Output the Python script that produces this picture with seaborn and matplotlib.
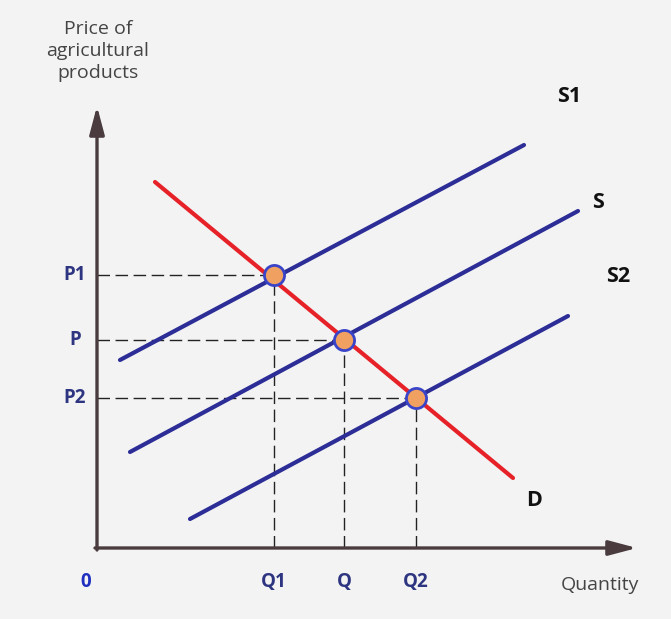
import numpy as np
import pandas as pd
import matplotlib
matplotlib.use('Agg')
import matplotlib.pyplot as plt
import seaborn as sns

# Quantities / prices at the three equilibria (chart units, origin at 0,0)
q_labels = ['Q1', 'Q', 'Q2']
q_values = [177, 247, 319]
p_labels = ['P1', 'P', 'P2']
p_values = [273, 208, 150]

# Curve end points
s1_x = [23, 427]
s1_y = [188, 403]
s_x = [33, 481]
s_y = [96, 337]
s2_x = [93, 471]
s2_y = [29, 232]
d_x = [58, 416]
d_y = [366, 70]

curves = pd.DataFrame({
    'x': s1_x + s_x + s2_x + d_x,
    'y': s1_y + s_y + s2_y + d_y,
    'curve': ['S1'] * 2 + ['S'] * 2 + ['S2'] * 2 + ['D'] * 2,
})
points = pd.DataFrame({'x': q_values, 'y': p_values})

sns.set_style('white')
plt.rcParams['font.family'] = ['Open Sans', 'DejaVu Sans']

fig = plt.figure(figsize=(6.71, 6.19), dpi=100)
fig.patch.set_facecolor('#f3f3f3')
ax = fig.add_axes([0, 0, 1, 1])
ax.set_facecolor('#f3f3f3')
ax.set_xlim(-97, 574)
ax.set_ylim(-71, 548)
ax.axis('off')

blue = '#2c2d96'
red = '#e62228'
axis_col = '#4a3c3e'

# dashed guides
for q, p in zip(q_values, p_values):
    ax.plot([0, q], [p, p], color='#222222', lw=1.0, dashes=(9, 4), zorder=1)
    ax.plot([q, q], [0, p], color='#222222', lw=1.0, dashes=(9, 4), zorder=1)

# supply and demand curves
sns.lineplot(data=curves, x='x', y='y', hue='curve', units='curve', estimator=None,
             palette={'S1': blue, 'S': blue, 'S2': blue, 'D': red},
             linewidth=3.0, legend=False, sort=False, ax=ax, zorder=3)

# equilibrium points
sns.scatterplot(data=points, x='x', y='y', s=210, color='#f0a060',
                edgecolor='#3a44c8', linewidth=2, ax=ax, zorder=5)

# axes with arrows
ax.annotate('', xy=(540, 0), xytext=(-2, 0),
            arrowprops=dict(arrowstyle='-|>,head_length=1.7,head_width=0.45',
                            color=axis_col, lw=2.4, shrinkA=0, shrinkB=0), zorder=4)
ax.annotate('', xy=(0, 442), xytext=(0, -2),
            arrowprops=dict(arrowstyle='-|>,head_length=1.7,head_width=0.45',
                            color=axis_col, lw=2.4, shrinkA=0, shrinkB=0), zorder=4)

# tick labels
for lab, p in zip(p_labels, p_values):
    ax.text(-22, p, lab, ha='center', va='center', fontsize=13.5,
            fontweight='bold', color='#2e3580')
for lab, q in zip(q_labels, q_values):
    ax.text(q, -34, lab, ha='center', va='center', fontsize=13.5,
            fontweight='bold', color='#2e3580')
ax.text(-11, -34, '0', ha='center', va='center', fontsize=13.5,
        fontweight='bold', color='#1f30c0')

# curve labels
ax.text(472, 451, 'S1', ha='center', va='center', fontsize=15.5, fontweight='bold', color='#111111')
ax.text(501, 345, 'S', ha='center', va='center', fontsize=15.5, fontweight='bold', color='#111111')
ax.text(521, 271, 'S2', ha='center', va='center', fontsize=15.5, fontweight='bold', color='#111111')
ax.text(437, 48, 'D', ha='center', va='center', fontsize=15.5, fontweight='bold', color='#111111')

# axis titles
ax.text(1, 497, 'Price of\nagricultural\nproducts', ha='center', va='center',
        fontsize=14, color='#444444', linespacing=1.3)
ax.text(503, -37, 'Quantity', ha='center', va='center', fontsize=14, color='#444444')

fig.savefig('out.png', dpi=100, facecolor=fig.get_facecolor())
